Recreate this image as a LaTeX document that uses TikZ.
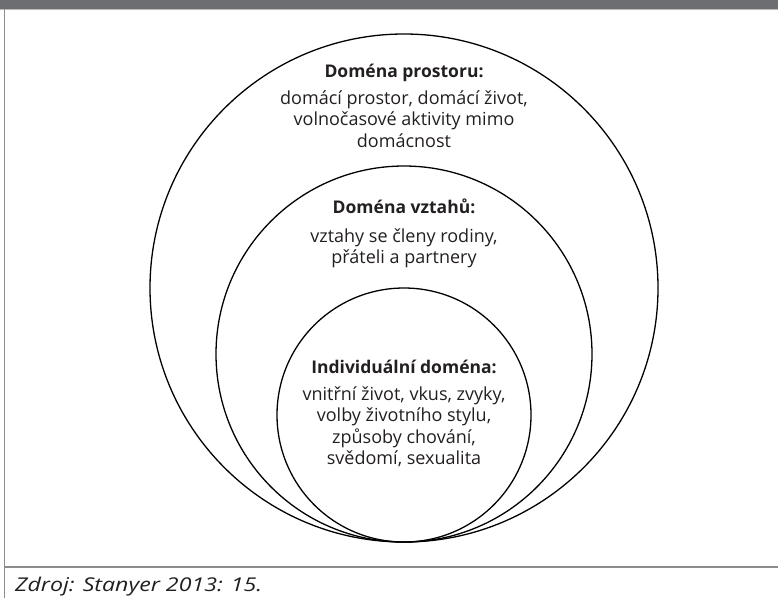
\documentclass[tikz,border=0pt]{standalone}
\usepackage{fontspec}
\setmainfont{Open Sans}
\usepackage{tikz}

\definecolor{barcol}{HTML}{6D6E71}
\definecolor{framecol}{HTML}{8C8C8C}
\definecolor{inkcol}{HTML}{231F20}

\begin{document}
\begin{tikzpicture}[x=1pt,y=-1pt,
  ring/.style={draw=black,line width=1.3pt},
  headtext/.style={anchor=base,text=inkcol,inner sep=0pt,font=\fontsize{17.5}{21}\selectfont\bfseries},
  bodytext/.style={anchor=base,text=inkcol,inner sep=0pt,align=center,font=\fontsize{18}{21.3}\selectfont}]
\useasboundingbox (0,0) rectangle (778,598);
% frame
\fill[barcol] (0,0) rectangle (778,8.5);
\draw[framecol!60,line width=1pt] (0,9.2) -- (778,9.2);
\draw[framecol,line width=1.4pt] (4.5,9) -- (4.5,598);
\draw[framecol,line width=1.4pt] (4.5,567) -- (778,567);
% domains
\draw[ring] (404,288) circle (254);
\draw[ring] (404,354) circle (188);
\draw[ring] (404,415) circle (127);
% texts (base = last line)
\node[headtext] (prostor) at (404,77) {Doména prostoru:};
\node[bodytext] (prostortxt) at (404,147) {domácí prostor, domácí život,\\volnočasové aktivity mimo\\domácnost};
\node[headtext] (vztahy) at (404,213) {Doména vztahů:};
\node[bodytext] (vztahytxt) at (404,263.5) {vztahy se členy rodiny,\\přáteli a partnery};
\node[headtext] (indiv) at (404,373) {Individuální doména:};
\node[bodytext] (indivtxt) at (404,464.3) {vnitřní život, vkus, zvyky,\\volby životního stylu,\\způsoby chování,\\svědomí, sexualita};
% source
\node[anchor=base west,inner sep=0pt,text=inkcol,font=\fontsize{19}{23}\selectfont\itshape] (zdroj) at (15,591) {\scalebox{1.22}[1]{Zdroj: Stanyer 2013: 15.}};
\end{tikzpicture}
\end{document}
